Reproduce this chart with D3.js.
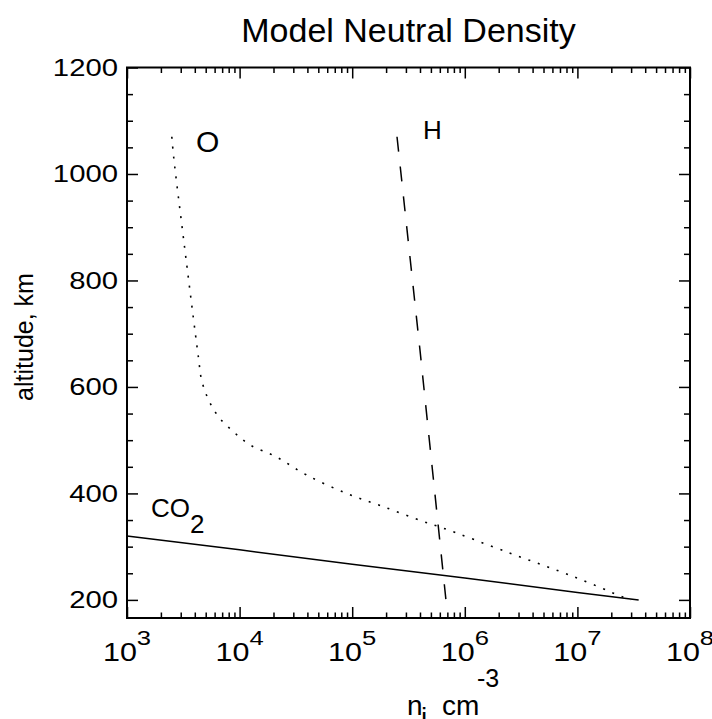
<!DOCTYPE html>
<html>
<head>
<meta charset="utf-8">
<script src="https://cdn.jsdelivr.net/npm/d3@7"></script>
<style>
  body { margin: 0; background: #fff; }
  text { font-family: "Liberation Sans", Arial, sans-serif; fill: #000; }
</style>
</head>
<body>
<div id="chart"></div>
<script>
// density (cm^-3) vs altitude (km)
var oDensity   = [2.5e3, 2.6e3, 3.2e3, 4.3e3, 4.6e3, 5.3e3, 6.5e3, 8.8e3, 1.24e4, 2.1e4, 3.9e4, 8.9e4, 1.9e5, 4.3e5, 6.4e5, 2.5e6, 9.2e6, 2.5e7, 3.0e7];
var oAltitude  = [1070, 1031, 873, 657, 613, 576, 544, 516, 491, 469, 435, 400, 375, 347, 335, 288, 244, 206, 200];
var hDensity   = [2.5e5, 4.0e5, 6.8e5];
var hAltitude  = [1070, 669, 200];
var co2Density = [1e3, 1e4, 1e5, 1e6, 1e7, 3.5e7];
var co2Altitude = [320, 294, 267, 241, 214, 200];

var xMajorTicks = [1e3, 1e4, 1e5, 1e6, 1e7, 1e8];
var xExponents = ["3", "4", "5", "6", "7", "8"];
var yMajorTicks = [200, 400, 600, 800, 1000, 1200];

var width = 712, height = 719;
var margin = {left: 127, right: 22, top: 67.5, bottom: 101};

var svg = d3.select("#chart").append("svg")
    .attr("width", width)
    .attr("height", height);

var xScale = d3.scaleLog()
    .domain([1e3, 1e8])
    .range([margin.left, width - margin.right]);

var yScale = d3.scaleLinear()
    .domain([166, 1200])
    .range([height - margin.bottom, margin.top]);

var x0 = xScale.range()[0], x1 = xScale.range()[1];
var y0 = yScale.range()[0], y1 = yScale.range()[1];

var xMinor = xScale.ticks().filter(function(d) { return xMajorTicks.indexOf(d) < 0; });
var yMinor = d3.range(200, 1201, 50).filter(function(d) { return d % 200 !== 0; });

// ticks on all four sides, pointing inward
function tickAxis(axis, pos, values, size) {
  var g = svg.append("g")
    .attr("transform", pos)
    .call(axis.tickValues(values).tickSize(size).tickSizeOuter(0).tickFormat(""));
  g.select(".domain").remove();
  g.selectAll(".tick line").attr("stroke", "#000").attr("stroke-width", 1.5);
}
tickAxis(d3.axisBottom(xScale), "translate(0," + y0 + ")", xMajorTicks, -11);
tickAxis(d3.axisBottom(xScale), "translate(0," + y0 + ")", xMinor, -5.5);
tickAxis(d3.axisTop(xScale), "translate(0," + y1 + ")", xMajorTicks, -11);
tickAxis(d3.axisTop(xScale), "translate(0," + y1 + ")", xMinor, -5.5);
tickAxis(d3.axisLeft(yScale), "translate(" + x0 + ",0)", yMajorTicks, -11);
tickAxis(d3.axisLeft(yScale), "translate(" + x0 + ",0)", yMinor, -6);
tickAxis(d3.axisRight(yScale), "translate(" + x1 + ",0)", yMajorTicks, -11);
tickAxis(d3.axisRight(yScale), "translate(" + x1 + ",0)", yMinor, -6);

svg.append("rect")
    .attr("x", x0).attr("y", y1)
    .attr("width", x1 - x0).attr("height", y0 - y1)
    .attr("fill", "none")
    .attr("stroke", "#000")
    .attr("stroke-width", 2);

// tick labels (slightly wide font, like the original)
svg.selectAll(".ylab")
    .data(yMajorTicks)
  .enter().append("text")
    .attr("class", "ylab")
    .attr("transform", function(d) { return "translate(118," + (yScale(d) + 8.5) + ") scale(1.22,1)"; })
    .attr("text-anchor", "end")
    .style("font-size", "24px")
    .text(function(d) { return d; });

var xl = svg.selectAll(".xlab")
    .data(xMajorTicks)
  .enter().append("text")
    .attr("class", "xlab")
    .attr("transform", function(d) { return "translate(" + xScale(d) + ",661) scale(1.22,1)"; })
    .attr("text-anchor", "middle")
    .style("font-size", "25px");
xl.append("tspan").text("10");
xl.append("tspan")
    .attr("dy", -16)
    .style("font-size", "21px")
    .text(function(d, i) { return xExponents[i]; });

// curves
var line = d3.line()
    .x(function(d) { return xScale(d[0]); })
    .y(function(d) { return yScale(d[1]); });

svg.append("path")
    .datum(d3.zip(oDensity, oAltitude))
    .attr("d", line.curve(d3.curveCatmullRom.alpha(0.5)))
    .attr("fill", "none")
    .attr("stroke", "#000")
    .attr("stroke-width", 1.6)
    .attr("stroke-dasharray", "2,8");

svg.append("path")
    .datum(d3.zip(hDensity, hAltitude))
    .attr("d", line.curve(d3.curveLinear))
    .attr("fill", "none")
    .attr("stroke", "#000")
    .attr("stroke-width", 1.5)
    .attr("stroke-dasharray", "15,15");

svg.append("path")
    .datum(d3.zip(co2Density, co2Altitude))
    .attr("d", line.curve(d3.curveLinear))
    .attr("fill", "none")
    .attr("stroke", "#000")
    .attr("stroke-width", 1.5);

// species labels
svg.append("text").attr("x", 196).attr("y", 152).style("font-size", "30px").text("O");
svg.append("text").attr("x", 423).attr("y", 139).style("font-size", "26px").text("H");
var co2 = svg.append("text").attr("x", 151).attr("y", 517).style("font-size", "26px");
co2.append("tspan").text("CO");
co2.append("tspan").attr("dy", 16).text("2");

// titles
svg.append("text")
    .attr("x", (x0 + x1) / 2)
    .attr("y", 42)
    .attr("text-anchor", "middle")
    .style("font-size", "34px")
    .text("Model Neutral Density");

svg.append("text")
    .attr("transform", "translate(33,337) rotate(-90)")
    .attr("text-anchor", "middle")
    .style("font-size", "25px")
    .text("altitude, km");

var xt = svg.append("text").attr("x", 407).attr("y", 715).style("font-size", "28px");
xt.append("tspan").text("n");
xt.append("tspan").attr("x", 421).attr("y", 727).text("i");
xt.append("tspan").attr("x", 442).attr("y", 715).text("cm");
xt.append("tspan").attr("x", 477).attr("y", 687).style("font-size", "25px").text("-3");
</script>
</body>
</html>
